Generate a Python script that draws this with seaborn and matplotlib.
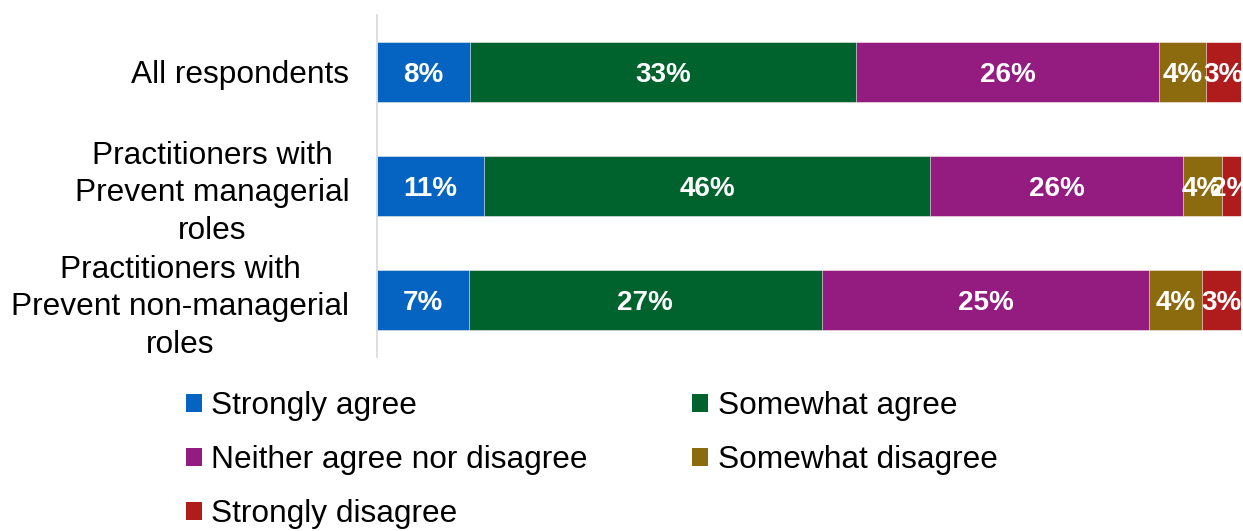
import matplotlib
matplotlib.use("Agg")
import matplotlib.pyplot as plt
import numpy as np
import pandas as pd
import seaborn as sns
from matplotlib.patches import Patch

groups = [
    "All respondents",
    "Practitioners with\nPrevent managerial\nroles",
    "Practitioners with\nPrevent non-managerial\nroles",
]
responses = [
    "Strongly agree",
    "Somewhat agree",
    "Neither agree nor disagree",
    "Somewhat disagree",
    "Strongly disagree",
]
strongly_agree = [8, 11, 7]
somewhat_agree = [33, 46, 27]
neither = [26, 26, 25]
somewhat_disagree = [4, 4, 4]
strongly_disagree = [3, 2, 3]
colors = ["#0563C1", "#00622D", "#941B80", "#8C6B0F", "#B01C1C"]


def main():
    sns.set_style("white")
    plt.rcParams["font.family"] = ["Liberation Sans", "DejaVu Sans"]
    plt.rcParams["text.color"] = "black"
    plt.rcParams["ytick.color"] = "black"

    values = np.array([strongly_agree, somewhat_agree, neither,
                       somewhat_disagree, strongly_disagree]).T.astype(float)
    # each bar is stretched to full width (100% stacked)
    shares = values / values.sum(axis=1, keepdims=True)
    cum = np.cumsum(shares, axis=1)
    df = pd.DataFrame(cum, columns=responses)
    df["group"] = groups

    fig = plt.figure(figsize=(12.43, 5.31), dpi=100)
    ax = fig.add_axes([377 / 1243, 1 - 357 / 531, 864 / 1243, 342 / 531])

    # draw cumulative bars from the longest down so they stack
    for i in reversed(range(len(responses))):
        sns.barplot(data=df, x=responses[i], y="group", color=colors[i],
                    width=0.52, orient="h", ax=ax, saturation=1,
                    edgecolor="white", linewidth=0.4)

    for r in range(len(groups)):
        left = 0.0
        for i in range(len(responses)):
            ax.text((left + cum[r, i]) / 2, r + 0.03, f"{int(values[r, i])}%",
                    ha="center", va="center", color="white",
                    fontsize=20, fontweight="bold")
            left = cum[r, i]

    ax.set_xlim(0, 1)
    ax.set_ylim(2.5, -0.5)
    ax.set_xlabel("")
    ax.set_ylabel("")
    ax.set_xticks([])
    ax.tick_params(axis="y", length=0, pad=20, labelsize=22.8, labelcolor="black")
    for lab in ax.get_yticklabels():
        lab.set_multialignment("center")
        lab.set_linespacing(1.32)
    for s in ["top", "right", "bottom"]:
        ax.spines[s].set_visible(False)
    ax.spines["left"].set_color("#D9D9D9")
    ax.spines["left"].set_linewidth(1.2)

    handles = [Patch(facecolor=c, edgecolor="none") for c in colors]
    order = [0, 2, 4, 1, 3]
    leg = fig.legend([handles[i] for i in order], [responses[i] for i in order],
                     ncol=2, loc="upper left",
                     bbox_to_anchor=(186 / 1243, 1 - 391 / 531),
                     frameon=False, fontsize=22.8, handlelength=0.5,
                     handleheight=0.5, handletextpad=0.3, columnspacing=3.3,
                     labelspacing=0.76, borderpad=0, borderaxespad=0)
    for t in leg.get_texts():
        t.set_color("black")

    fig.savefig("out.png", dpi=100)
    plt.close(fig)


if __name__ == "__main__":
    main()
